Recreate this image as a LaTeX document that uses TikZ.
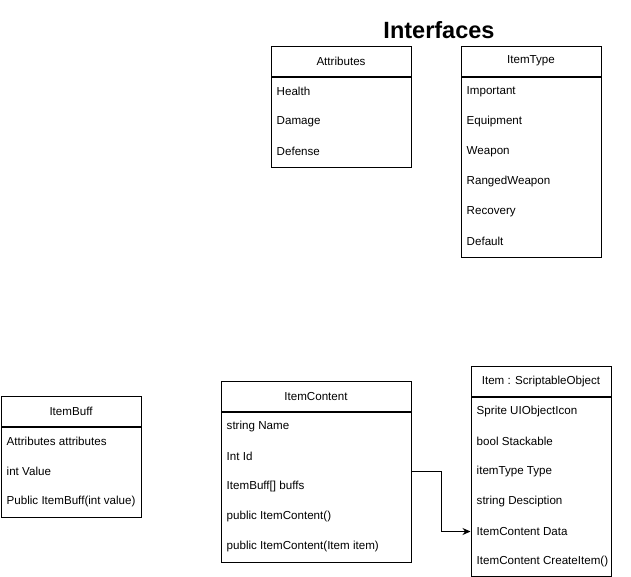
\documentclass[tikz,border=0pt]{standalone}
\usepackage{fontspec}
\setmainfont{Liberation Sans}
\usetikzlibrary{calc, arrows.meta, positioning}

\begin{document}
\begin{tikzpicture}[x=1pt,y=-1pt,
    head/.style={draw, line width=1pt, anchor=north west, minimum height=30, inner sep=0pt, font=\fontsize{11.6}{14}\selectfont},
    body/.style={draw, line width=1pt, anchor=north, inner sep=0pt},
    row/.style={anchor=west, inner sep=0pt, font=\fontsize{11.6}{14}\selectfont},
    conn/.style={line width=1pt, -{Stealth[length=8pt,width=7pt]}}]
    \useasboundingbox (0,0) rectangle (631,576);
    %タイトル
    \node[font=\bfseries\fontsize{23.5}{26}\selectfont] (title) at (439,30) {Interfaces};
    %インターフェース
    \node[head, minimum width=140] (attrH) at (270.5,45.5) {Attributes};
    \node[body, minimum width=140, minimum height=90] (attrB) at (attrH.south) {};
    \foreach \t [count=\i] in {Health, Damage, Defense}
        \node[row] (attr-\i) at ($(attrB.north west)+(6,30*\i-15)$) {\t};
    \node[head, minimum width=140] (typeH) at (460.5,45.5) {ItemType};
    \node[body, minimum width=140, minimum height=180] (typeB) at (typeH.south) {};
    \foreach \t [count=\i] in {Important, Equipment, Weapon, RangedWeapon, Recovery, Default}
        \node[row] (type-\i) at ($(typeB.north west)+(6,30*\i-15)$) {\t};
    %クラス
    \node[head, minimum width=140] (buffH) at (0.5,395.5) {ItemBuff};
    \node[body, minimum width=140, minimum height=90] (buffB) at (buffH.south) {};
    \begin{scope}
        \clip (buffB.north west) rectangle (buffB.south east);
        \foreach \t [count=\i] in {Attributes attributes, int Value, Public ItemBuff(int value)}
            \node[row] (buff-\i) at ($(buffB.north west)+(6,30*\i-15)$) {\t};
    \end{scope}
    \node[head, minimum width=190] (contH) at (220.5,380.5) {ItemContent};
    \node[body, minimum width=190, minimum height=150] (contB) at (contH.south) {};
    \foreach \t [count=\i] in {string Name, Int Id, ItemBuff[] buffs, public ItemContent(), public ItemContent(Item item)}
        \node[row] (cont-\i) at ($(contB.north west)+(6,30*\i-15)$) {\t};
    \node[head, minimum width=140] (itemH) at (470.5,365.5) {Item : ScriptableObject};
    \node[body, minimum width=140, minimum height=179] (itemB) at (itemH.south) {};
    \foreach \t [count=\i] in {Sprite UIObjectIcon, bool Stackable, itemType Type, string Desciption, ItemContent Data, ItemContent CreateItem()}
        \node[row] (item-\i) at ($(itemB.north west)+(6,30*\i-15)$) {\t};
    %矢印
    \coordinate (cOut) at ($(contH.north east)!.5!(contB.south east)$);
    \draw[conn] (cOut) -- ++(30,0) |- (itemB.west |- item-5);
\end{tikzpicture}
\end{document}
